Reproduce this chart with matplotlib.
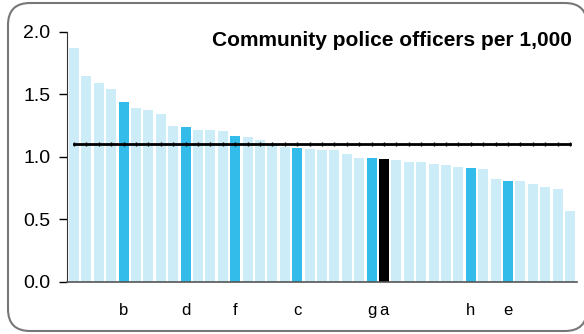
import matplotlib.pyplot as plt
from matplotlib.patches import FancyBboxPatch

# Community police officers per 1,000 (sorted), 41 areas
values = [1.87, 1.65, 1.59, 1.545, 1.44, 1.39, 1.375, 1.345, 1.25, 1.24,
          1.215, 1.215, 1.205, 1.165, 1.16, 1.135, 1.10, 1.08, 1.07, 1.065,
          1.055, 1.055, 1.025, 0.99, 0.99, 0.985, 0.975, 0.96, 0.96, 0.945,
          0.935, 0.92, 0.91, 0.905, 0.825, 0.81, 0.81, 0.785, 0.76, 0.745, 0.57]
labels = [''] * len(values)
highlight = {4: 'b', 9: 'd', 13: 'f', 18: 'c', 24: 'g', 32: 'h', 35: 'e'}
focus = {25: 'a'}
for i, s in {**highlight, **focus}.items():
    labels[i] = s
average = 1.10

light = '#CCECF8'
mid = '#33BBE9'

colors = []
for i in range(len(values)):
    if i in focus:
        colors.append('black')
    elif i in highlight:
        colors.append(mid)
    else:
        colors.append(light)

plt.rcParams['font.family'] = ['Liberation Sans', 'DejaVu Sans']

fig = plt.figure(figsize=(5.84, 3.34), dpi=100)
# rounded frame, in inches
frame = FancyBboxPatch((0.08, 0.03), 5.79, 3.28,
                       boxstyle='round,pad=0,rounding_size=0.22',
                       transform=fig.dpi_scale_trans, facecolor='white',
                       edgecolor='#777777', linewidth=1.5, zorder=0)
fig.patches.append(frame)

ax = fig.add_axes([0.1147, 0.1557, 0.8733, 0.7485])
ax.set_zorder(2)
x = list(range(len(values)))
ax.bar(x, values, width=0.8, color=colors, zorder=2)
ax.plot(x, [average] * len(values), color='black', linewidth=2,
        marker='|', markersize=3, zorder=3)

ax.set_xlim(-0.56, 40.56)
ax.set_ylim(0, 2.0)
ax.set_yticks([0.0, 0.5, 1.0, 1.5, 2.0])
ax.set_yticklabels(['0.0', '0.5', '1.0', '1.5', '2.0'], fontsize=14)
ax.set_xticks(x)
ax.set_xticklabels(labels, fontsize=12)
ax.tick_params(axis='x', length=0, pad=15)
ax.tick_params(axis='y', length=6, width=1, direction='out', pad=6)
ax.set_facecolor('none')
for s in ['top', 'right']:
    ax.spines[s].set_visible(False)
ax.spines['left'].set_color('#333333')
ax.spines['bottom'].set_color('#555555')
ax.spines['bottom'].set_linewidth(1.2)

ax.text(0.99, 1.005, 'Community police officers per 1,000', transform=ax.transAxes,
        ha='right', va='top', fontsize=15, fontweight='bold')

plt.savefig('out.png', dpi=100)
